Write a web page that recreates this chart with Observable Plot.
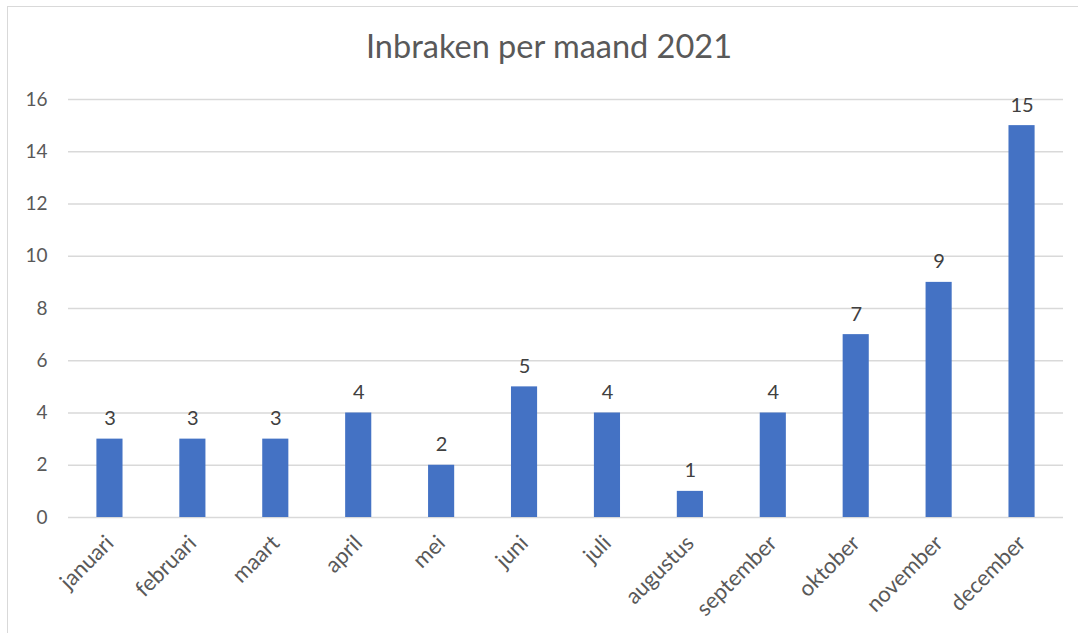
<!DOCTYPE html>
<html>
<head>
<meta charset="utf-8">
<script src="https://cdn.jsdelivr.net/npm/d3@7"></script>
<script src="https://cdn.jsdelivr.net/npm/@observablehq/plot@0.6"></script>
<style>
  html, body { margin: 0; padding: 0; background: #fff; }
  body { width: 1078px; height: 633px; overflow: hidden; position: relative; font-family: Lato, "Open Sans", sans-serif; }
  #frame { position: absolute; left: 7px; top: 6px; width: 1100px; height: 660px; border: 1.5px solid #d9d9d9; box-sizing: border-box; pointer-events: none; }
  #title { position: absolute; left: 0; top: 25px; width: 1098px; text-align: center; font-size: 32.5px; color: #595959; line-height: 42px; }
  #chart { position: absolute; left: 0; top: 80px; }
</style>
</head>
<body>
<div id="title">Inbraken per maand 2021</div>
<div id="chart"></div>
<div id="frame"></div>
<script>
const months = ["januari","februari","maart","april","mei","juni","juli","augustus","september","oktober","november","december"];
const counts = [3,3,3,4,2,5,4,1,4,7,9,15];
const yTicks = [0,2,4,6,8,10,12,14,16];

const data = months.map((m, i) => ({month: m, count: counts[i]}));

const chart = Plot.plot({
  width: 1078,
  height: 553,
  marginLeft: 68,
  marginRight: 15,
  marginTop: 19,
  marginBottom: 116,
  style: {fontFamily: "Lato, 'Open Sans', sans-serif", fontSize: "19px", color: "#595959", background: "transparent"},
  x: {domain: months, paddingInner: 0.685, paddingOuter: 0.3425, round: false, label: null},
  y: {domain: [0, 16], label: null},
  marks: [
    Plot.gridY(yTicks, {stroke: "#d9d9d9", strokeOpacity: 1, strokeWidth: 1.5}),
    Plot.axisY({ticks: yTicks, tickSize: 0, tickPadding: 21, label: null, fontSize: 19, fill: "#595959"}),
    Plot.axisX({tickSize: 0, tickRotate: -45, tickPadding: 22, label: null, fontSize: 22, fill: "#595959"}),
    Plot.barY(data, {x: "month", y: "count", fill: "#4472C4"}),
    Plot.text(data, {x: "month", y: "count", text: d => String(d.count), lineAnchor: "bottom", dy: -14, fontSize: 20, fill: "#404040"})
  ]
});
document.getElementById("chart").appendChild(chart);
</script>
</body>
</html>
